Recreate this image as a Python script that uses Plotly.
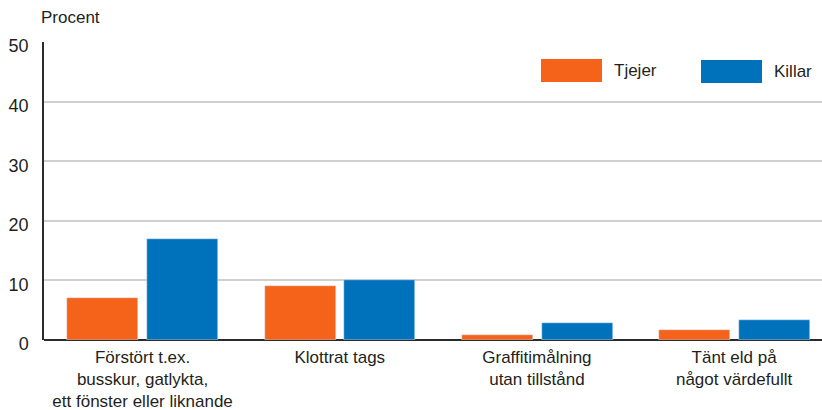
import plotly.graph_objects as go

categories = [
    "Förstört t.ex.<br>busskur, gatlykta,<br>ett fönster eller liknande",
    "Klottrat tags",
    "Graffitimålning<br>utan tillstånd",
    "Tänt eld på<br>något värdefullt",
]
series_names = ["Tjejer", "Killar"]
tjejer = [7.0, 9.1, 0.9, 1.6]
killar = [17.0, 10.1, 2.8, 3.3]
y_ticks = [0, 10, 20, 30, 40, 50]

colors = ["#F46319", "#0072BC"]
font_family = "Liberation Sans, Arial, sans-serif"
text_color = "#231f20"

x_idx = list(range(len(categories)))

fig = go.Figure()
fig.add_trace(go.Bar(x=x_idx, y=tjejer, name=series_names[0], marker_color=colors[0],
                     width=0.36, offset=-0.381, showlegend=False))
fig.add_trace(go.Bar(x=x_idx, y=killar, name=series_names[1], marker_color=colors[1],
                     width=0.36, offset=0.024, showlegend=False))

# legend drawn as boxes + labels in paper space
legend_boxes = [(541, 602, 59, 82), (701, 762, 60, 83)]
W, H = 822, 410
ml, mr, mt, mb = 44, 0, 42, 70
pw, ph = W - ml - mr, H - mt - mb

def px_to_paper_x(px):
    return (px - ml) / pw

def px_to_paper_y(py):
    return (H - mb - py) / ph

for (x0, x1, y0, y1), c, name in zip(legend_boxes, colors, series_names):
    fig.add_shape(type="rect", xref="paper", yref="paper",
                  x0=px_to_paper_x(x0), x1=px_to_paper_x(x1),
                  y0=px_to_paper_y(y1), y1=px_to_paper_y(y0),
                  fillcolor=c, line_width=0)
    fig.add_annotation(xref="paper", yref="paper", x=px_to_paper_x(x1 + 10),
                       y=px_to_paper_y((y0 + y1) / 2), text=name, showarrow=False,
                       xanchor="left", yanchor="middle", xshift=0,
                       font=dict(size=17, color=text_color, family=font_family))

fig.add_annotation(xref="paper", yref="paper", x=px_to_paper_x(39), y=px_to_paper_y(18),
                   text="Procent", showarrow=False, xanchor="left", yanchor="middle",
                   font=dict(size=17, color=text_color, family=font_family))

fig.update_layout(
    width=W, height=H,
    margin=dict(l=ml, r=mr, t=mt, b=mb, autoexpand=False),
    plot_bgcolor="white", paper_bgcolor="white",
    font=dict(family=font_family, size=17, color=text_color),
    bargap=0, bargroupgap=0,
)
fig.update_xaxes(
    range=[-0.5, 3.446], tickvals=x_idx, ticktext=categories,
    showgrid=False, ticks="", showline=False, zeroline=False, automargin=False,
    ticklabelstandoff=5,
    tickfont=dict(size=17, color=text_color), fixedrange=True,
)
fig.update_yaxes(
    range=[0, 50], tickvals=y_ticks, ticks="", automargin=False,
    showgrid=True, gridcolor="#d0d0d0", gridwidth=1.5,
    zeroline=True, zerolinecolor="#2b2b2b", zerolinewidth=2,
    showline=True, linecolor="#2b2b2b", linewidth=1.5,
    ticklabelstandoff=10, ticklabelshift=4,
    tickfont=dict(size=18, color=text_color),
)

fig.write_html("out.html", config={"displayModeBar": False},
               post_script="document.body.style.margin='0';")
